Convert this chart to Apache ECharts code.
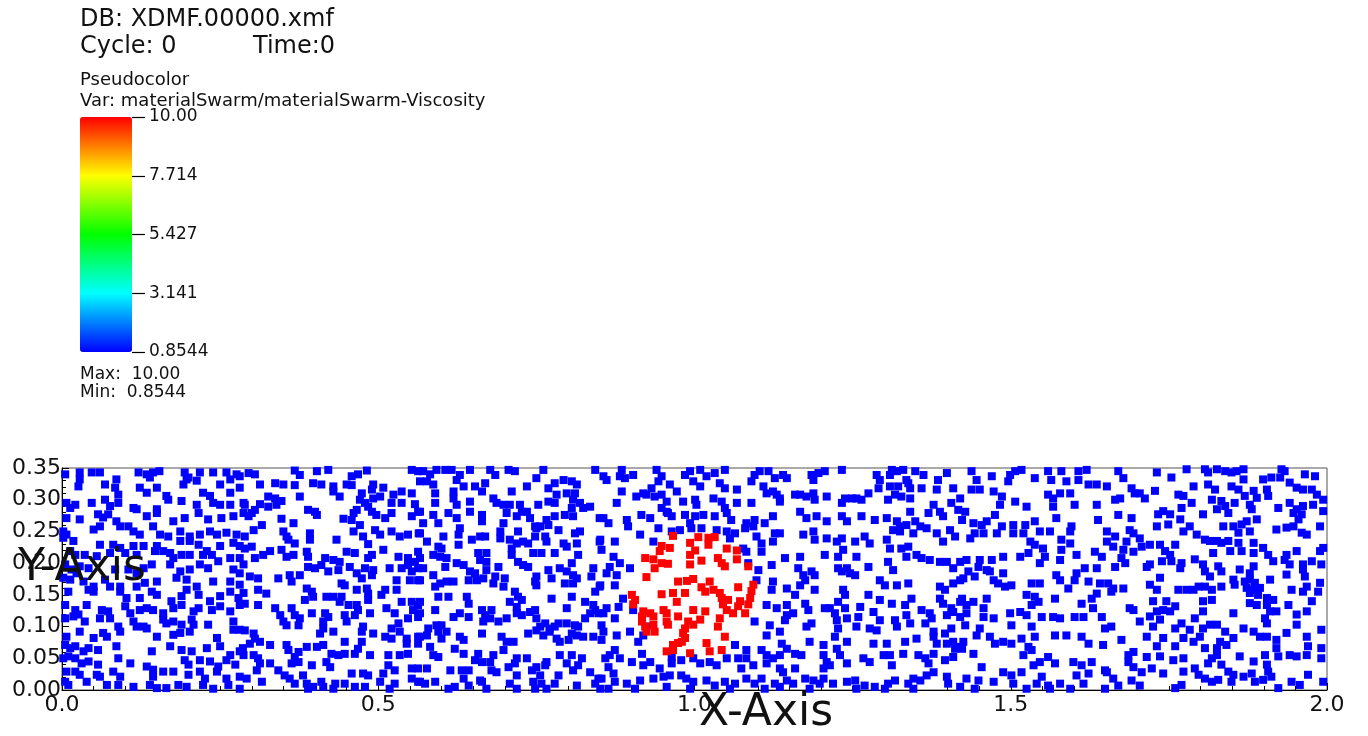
<!DOCTYPE html>
<html>
<head>
<meta charset="utf-8">
<script src="https://cdn.jsdelivr.net/npm/echarts@6/dist/echarts.min.js"></script>
<style>
html,body{margin:0;padding:0;background:#fff;}
#chart{width:1368px;height:736px;}
</style>
</head>
<body>
<div id="chart"></div>
<script>
// ---------------- data ----------------
const dbName = 'XDMF.00000.xmf';
const cycleValue = 0;
const timeValue = 0;
const plotName = 'Pseudocolor';
const varName = 'materialSwarm/materialSwarm-Viscosity';
const xRange = [0, 2.0];
const yRange = [0, 0.35];
const viscosityRange = [0.8544, 10.00];
const colorbarTicks = ['0.8544', '3.141', '5.427', '7.714', '10.00'];
const colorbarMaxLabel = '10.00';
const colorbarMinLabel = '0.8544';
const lowViscosity = 0.8544;   // background material (blue)
const highViscosity = 10.00;   // inclusion material (red)

const lowViscosityParticles = [
[0.005,0.340],[0.028,0.343],[0.047,0.343],[0.060,0.343],[0.086,0.332],[0.121,0.343],[0.134,0.340],[0.144,0.343],[0.154,0.345],[0.194,0.343],[0.200,0.335],[0.218,0.343],[0.239,0.343],[0.260,0.343],[0.266,0.332],[0.281,0.337],[0.028,0.332],[0.139,0.335],[0.197,0.332],[0.213,0.330],[0.276,0.340],
[0.026,0.321],[0.068,0.324],[0.084,0.319],[0.089,0.308],[0.123,0.319],[0.134,0.311],[0.150,0.319],[0.165,0.306],[0.192,0.324],[0.223,0.311],[0.234,0.306],[0.250,0.324],[0.266,0.311],[0.281,0.319],
[0.007,0.295],[0.013,0.287],[0.021,0.292],[0.047,0.295],[0.068,0.300],[0.076,0.290],[0.089,0.295],[0.113,0.287],[0.118,0.285],[0.150,0.285],[0.168,0.300],[0.189,0.298],[0.213,0.292],[0.239,0.295],[0.250,0.292],[0.266,0.292],[0.287,0.295],
[0.007,0.271],[0.028,0.269],[0.057,0.277],[0.065,0.272],[0.073,0.277],[0.086,0.266],[0.134,0.274],[0.150,0.279],[0.176,0.266],[0.194,0.271],[0.216,0.279],[0.231,0.269],[0.252,0.271],[0.271,0.274],[0.287,0.279],
[0.002,0.250],[0.007,0.245],[0.050,0.253],[0.060,0.258],[0.092,0.258],[0.105,0.258],[0.113,0.250],[0.123,0.245],[0.144,0.258],[0.155,0.245],[0.168,0.242],[0.187,0.250],[0.202,0.242],[0.218,0.245],[0.234,0.250],[0.245,0.245],[0.260,0.248],[0.276,0.245],
[0.002,0.240],[0.018,0.235],[0.060,0.229],[0.081,0.229],[0.092,0.224],[0.113,0.227],[0.129,0.227],[0.150,0.227],[0.160,0.219],[0.171,0.216],[0.187,0.235],[0.202,0.235],[0.216,0.229],[0.229,0.219],[0.250,0.227],[0.271,0.232],[0.281,0.227],
[0.013,0.219],[0.021,0.213],[0.036,0.213],[0.055,0.211],[0.076,0.216],[0.100,0.216],[0.118,0.213],[0.147,0.219],[0.176,0.208],[0.189,0.213],[0.202,0.213],[0.223,0.213],[0.237,0.213],[0.247,0.203],[0.266,0.208],[0.281,0.208],
[0.005,0.198],[0.015,0.190],[0.023,0.184],[0.028,0.195],[0.042,0.192],[0.084,0.190],[0.105,0.190],[0.118,0.184],[0.129,0.192],[0.142,0.198],[0.171,0.198],[0.187,0.187],[0.202,0.190],[0.218,0.198],[0.231,0.192],[0.271,0.190],[0.281,0.184],[0.287,0.198],
[0.002,0.177],[0.013,0.174],[0.034,0.171],[0.050,0.163],[0.068,0.174],[0.076,0.163],[0.092,0.163],[0.118,0.163],[0.131,0.169],[0.150,0.171],[0.181,0.177],[0.197,0.174],[0.213,0.163],[0.239,0.171],[0.266,0.171],[0.281,0.166],
[0.010,0.155],[0.042,0.158],[0.050,0.155],[0.092,0.155],[0.102,0.145],[0.123,0.145],[0.142,0.155],[0.150,0.150],[0.173,0.140],[0.189,0.148],[0.197,0.158],[0.216,0.150],[0.234,0.140],[0.250,0.148],[0.266,0.155],[0.279,0.145],[0.287,0.153],
[0.005,0.134],[0.021,0.126],[0.026,0.119],[0.039,0.134],[0.063,0.126],[0.073,0.124],[0.100,0.132],[0.108,0.121],[0.123,0.126],[0.134,0.129],[0.144,0.126],[0.160,0.121],[0.176,0.129],[0.189,0.134],[0.208,0.124],[0.216,0.129],[0.237,0.126],[0.250,0.132],[0.266,0.124],[0.281,0.134],
[0.005,0.113],[0.018,0.116],[0.036,0.108],[0.060,0.113],[0.076,0.113],[0.089,0.100],[0.113,0.108],[0.118,0.100],[0.129,0.100],[0.134,0.097],[0.160,0.111],[0.165,0.105],[0.176,0.108],[0.189,0.103],[0.205,0.111],[0.208,0.103],[0.231,0.103],[0.271,0.108],[0.281,0.095],
[0.007,0.084],[0.028,0.092],[0.050,0.082],[0.065,0.090],[0.071,0.084],[0.092,0.092],[0.150,0.084],[0.176,0.087],[0.187,0.090],[0.202,0.092],[0.245,0.082],[0.271,0.095],
[0.005,0.071],[0.013,0.066],[0.021,0.069],[0.034,0.061],[0.042,0.066],[0.057,0.063],[0.086,0.069],[0.142,0.061],[0.171,0.069],[0.189,0.063],[0.205,0.061],[0.229,0.066],[0.250,0.069],[0.266,0.055],[0.281,0.061],[0.286,0.066],
[0.002,0.050],[0.010,0.053],[0.021,0.050],[0.031,0.042],[0.042,0.045],[0.057,0.040],[0.089,0.050],[0.108,0.042],[0.134,0.037],[0.144,0.032],[0.194,0.047],[0.200,0.040],[0.218,0.047],[0.234,0.045],[0.247,0.037],[0.260,0.047],[0.274,0.040],[0.287,0.055],
[0.007,0.029],[0.021,0.029],[0.028,0.024],[0.055,0.024],[0.060,0.021],[0.081,0.029],[0.092,0.021],[0.144,0.021],[0.160,0.029],[0.176,0.029],[0.200,0.024],[0.218,0.029],[0.226,0.018],[0.245,0.029],[0.260,0.018],[0.281,0.021],
[0.005,0.013],[0.010,0.008],[0.039,0.013],[0.071,0.008],[0.089,0.008],[0.113,0.005],[0.139,0.008],[0.150,0.003],[0.165,0.003],[0.184,0.008],[0.197,0.005],[0.223,0.008],[0.239,0.002],[0.263,0.008],[0.281,0.002],
[0.295,0.342],[0.305,0.340],[0.368,0.346],[0.376,0.339],[0.403,0.345],[0.421,0.347],[0.458,0.337],[0.468,0.340],[0.482,0.346],[0.553,0.347],[0.563,0.345],
[0.313,0.324],[0.337,0.326],[0.350,0.324],[0.368,0.323],[0.397,0.326],[0.410,0.324],[0.429,0.321],[0.450,0.324],[0.458,0.323],[0.492,0.324],[0.508,0.319],
[0.326,0.305],[0.337,0.302],[0.376,0.305],[0.429,0.313],[0.439,0.305],[0.474,0.310],[0.471,0.300],[0.490,0.316],[0.492,0.302],[0.503,0.305],[0.524,0.308],[0.537,0.313],[0.553,0.310],[0.289,0.292],[0.313,0.293],[0.326,0.289],[0.339,0.292],[0.347,0.298],[0.479,0.295],[0.484,0.289],[0.521,0.295],[0.537,0.295],[0.558,0.293],
[0.300,0.279],[0.305,0.284],[0.295,0.274],[0.389,0.284],[0.400,0.281],[0.403,0.276],[0.445,0.270],[0.461,0.279],[0.458,0.268],[0.466,0.284],[0.471,0.260],[0.490,0.281],[0.497,0.276],[0.511,0.271],[0.521,0.279],[0.553,0.274],[0.563,0.281],[0.347,0.270],[0.366,0.263],
[0.316,0.260],[0.303,0.252],[0.289,0.242],[0.350,0.250],[0.355,0.242],[0.392,0.247],[0.392,0.237],[0.358,0.237],[0.368,0.231],[0.461,0.250],[0.476,0.242],[0.495,0.252],[0.503,0.245],[0.521,0.250],[0.534,0.242],[0.547,0.245],[0.564,0.247],[0.434,0.237],[0.484,0.230],
[0.289,0.223],[0.300,0.226],[0.329,0.219],[0.318,0.213],[0.305,0.208],[0.347,0.221],[0.366,0.213],[0.355,0.210],[0.387,0.218],[0.389,0.210],[0.416,0.208],[0.429,0.205],[0.439,0.202],[0.450,0.218],[0.463,0.216],[0.484,0.208],[0.490,0.213],[0.508,0.221],[0.532,0.210],[0.547,0.208],[0.563,0.218],[0.558,0.202],
[0.297,0.179],[0.310,0.176],[0.342,0.176],[0.360,0.181],[0.363,0.171],[0.376,0.181],[0.389,0.194],[0.400,0.192],[0.410,0.197],[0.421,0.187],[0.437,0.189],[0.455,0.194],[0.466,0.184],[0.474,0.176],[0.479,0.192],[0.490,0.181],[0.492,0.189],[0.518,0.192],[0.529,0.173],[0.537,0.192],[0.547,0.197],[0.553,0.187],[0.563,0.192],
[0.310,0.158],[0.323,0.152],[0.387,0.160],[0.395,0.155],[0.397,0.147],[0.442,0.168],[0.447,0.165],[0.466,0.158],[0.482,0.160],[0.484,0.152],[0.505,0.150],[0.511,0.158],[0.529,0.158],[0.550,0.173],[0.563,0.173],
[0.289,0.136],[0.310,0.134],[0.337,0.129],[0.384,0.142],[0.418,0.147],[0.429,0.147],[0.442,0.147],[0.439,0.139],[0.453,0.134],[0.466,0.134],[0.468,0.126],[0.484,0.142],[0.513,0.129],[0.537,0.139],[0.553,0.139],[0.563,0.134],[0.555,0.126],
[0.345,0.118],[0.350,0.108],[0.363,0.129],[0.368,0.118],[0.374,0.102],[0.376,0.113],[0.395,0.121],[0.416,0.121],[0.421,0.115],[0.413,0.108],[0.447,0.118],[0.450,0.108],[0.463,0.118],[0.487,0.121],[0.526,0.121],[0.532,0.105],[0.547,0.113],[0.563,0.115],[0.355,0.102],
[0.289,0.094],[0.303,0.089],[0.413,0.097],[0.408,0.089],[0.429,0.092],[0.476,0.100],[0.474,0.092],[0.492,0.089],[0.521,0.097],[0.534,0.092],[0.511,0.084],[0.521,0.081],[0.545,0.081],[0.563,0.084],[0.305,0.081],[0.313,0.076],[0.447,0.076],
[0.297,0.073],[0.329,0.071],[0.355,0.071],[0.358,0.063],[0.374,0.060],[0.387,0.068],[0.403,0.068],[0.413,0.071],[0.426,0.057],[0.437,0.055],[0.447,0.057],[0.463,0.057],[0.474,0.076],[0.468,0.065],[0.487,0.055],[0.516,0.055],[0.534,0.055],[0.547,0.057],[0.563,0.073],[0.545,0.073],[0.303,0.055],[0.310,0.050],[0.368,0.052],
[0.313,0.042],[0.329,0.042],[0.342,0.031],[0.352,0.023],[0.363,0.042],[0.374,0.044],[0.381,0.023],[0.395,0.039],[0.418,0.044],[0.424,0.036],[0.458,0.026],[0.476,0.026],[0.484,0.023],[0.508,0.026],[0.516,0.039],[0.526,0.031],[0.553,0.034],[0.563,0.034],[0.308,0.031],
[0.292,0.018],[0.316,0.013],[0.360,0.018],[0.368,0.010],[0.387,0.010],[0.389,0.002],[0.397,0.005],[0.410,0.013],[0.413,0.005],[0.429,0.002],[0.447,0.010],[0.463,0.005],[0.479,0.005],[0.503,0.013],[0.526,0.010],[0.518,0.002],[0.553,0.018],[0.563,0.013],[0.432,0.010],
[0.571,0.345],[0.582,0.340],[0.592,0.347],[0.606,0.347],[0.616,0.347],[0.645,0.347],[0.677,0.347],[0.685,0.339],[0.706,0.347],[0.716,0.345],[0.761,0.347],[0.843,0.347],[0.629,0.339],[0.624,0.331],[0.750,0.334],[0.566,0.329],
[0.577,0.329],[0.587,0.324],[0.590,0.310],[0.619,0.313],[0.635,0.321],[0.653,0.321],[0.664,0.313],[0.669,0.326],[0.711,0.313],[0.735,0.321],[0.769,0.318],[0.779,0.326],[0.793,0.331],[0.806,0.329],[0.814,0.324],[0.811,0.310],[0.798,0.310],[0.782,0.308],
[0.590,0.295],[0.619,0.302],[0.624,0.292],[0.645,0.297],[0.682,0.302],[0.687,0.295],[0.698,0.292],[0.708,0.292],[0.724,0.292],[0.753,0.292],[0.769,0.297],[0.779,0.295],[0.808,0.300],[0.819,0.295],[0.835,0.289],[0.824,0.287],[0.806,0.287],
[0.566,0.281],[0.571,0.263],[0.587,0.276],[0.611,0.279],[0.624,0.271],[0.645,0.281],[0.664,0.276],[0.664,0.266],[0.698,0.263],[0.703,0.279],[0.719,0.274],[0.727,0.281],[0.735,0.281],[0.740,0.271],[0.748,0.258],[0.756,0.258],[0.766,0.268],[0.779,0.274],[0.769,0.260],[0.795,0.276],[0.808,0.274],[0.850,0.271],
[0.595,0.263],[0.629,0.255],[0.627,0.245],[0.661,0.242],[0.693,0.250],[0.721,0.250],[0.750,0.255],[0.785,0.252],[0.811,0.247],[0.819,0.250],[0.566,0.247],
[0.577,0.234],[0.603,0.242],[0.595,0.226],[0.600,0.223],[0.627,0.229],[0.648,0.237],[0.669,0.242],[0.693,0.239],[0.708,0.237],[0.719,0.231],[0.729,0.234],[0.737,0.231],[0.748,0.242],[0.764,0.242],[0.766,0.234],[0.793,0.231],[0.798,0.226],[0.814,0.231],[0.850,0.234],[0.711,0.223],
[0.566,0.208],[0.587,0.213],[0.598,0.210],[0.608,0.208],[0.606,0.194],[0.624,0.200],[0.635,0.197],[0.658,0.216],[0.671,0.216],[0.661,0.205],[0.671,0.202],[0.690,0.194],[0.711,0.213],[0.721,0.202],[0.729,0.197],[0.737,0.194],[0.745,0.216],[0.758,0.216],[0.779,0.216],[0.806,0.200],[0.816,0.213],
[0.571,0.192],[0.587,0.181],[0.645,0.187],[0.653,0.184],[0.671,0.189],[0.685,0.179],[0.750,0.179],[0.769,0.189],[0.787,0.192],[0.798,0.187],[0.808,0.181],[0.814,0.176],[0.840,0.192],[0.837,0.179],[0.566,0.173],
[0.590,0.163],[0.598,0.168],[0.608,0.171],[0.619,0.171],[0.643,0.173],[0.656,0.173],[0.666,0.176],[0.682,0.168],[0.698,0.163],[0.700,0.176],[0.716,0.155],[0.748,0.171],[0.750,0.165],[0.774,0.176],[0.795,0.168],[0.808,0.168],[0.850,0.163],[0.843,0.155],
[0.566,0.139],[0.595,0.147],[0.611,0.147],[0.640,0.147],[0.643,0.136],[0.664,0.126],[0.679,0.126],[0.708,0.139],[0.721,0.147],[0.727,0.142],[0.719,0.131],[0.748,0.126],[0.774,0.144],[0.806,0.147],[0.798,0.129],[0.827,0.139],[0.840,0.134],[0.843,0.126],[0.590,0.126],[0.566,0.121],
[0.619,0.115],[0.629,0.121],[0.643,0.115],[0.666,0.108],[0.669,0.118],[0.677,0.113],[0.690,0.108],[0.703,0.113],[0.719,0.121],[0.727,0.118],[0.740,0.123],[0.750,0.113],[0.756,0.100],[0.764,0.105],[0.771,0.097],[0.779,0.100],[0.785,0.105],[0.798,0.105],[0.811,0.102],[0.816,0.100],[0.827,0.113],[0.835,0.121],[0.848,0.121],[0.579,0.097],[0.592,0.102],[0.600,0.102],
[0.566,0.084],[0.577,0.086],[0.595,0.092],[0.600,0.081],[0.608,0.092],[0.629,0.084],[0.635,0.079],[0.664,0.089],[0.695,0.084],[0.703,0.076],[0.714,0.076],[0.737,0.089],[0.750,0.094],[0.761,0.086],[0.771,0.092],[0.782,0.081],[0.787,0.076],[0.801,0.079],[0.806,0.089],[0.814,0.086],[0.824,0.084],[0.840,0.084],[0.582,0.068],[0.621,0.065],
[0.587,0.055],[0.595,0.052],[0.635,0.057],[0.658,0.057],[0.653,0.047],[0.664,0.044],[0.682,0.055],[0.698,0.063],[0.719,0.050],[0.716,0.042],[0.735,0.050],[0.750,0.036],[0.766,0.044],[0.787,0.055],[0.806,0.055],[0.822,0.050],[0.798,0.042],[0.816,0.039],
[0.614,0.031],[0.632,0.031],[0.643,0.031],[0.677,0.044],[0.679,0.031],[0.687,0.028],[0.706,0.036],[0.719,0.023],[0.743,0.031],[0.756,0.023],[0.764,0.039],[0.785,0.023],[0.808,0.031],[0.835,0.028],[0.848,0.018],[0.577,0.034],[0.635,0.018],[0.661,0.015],
[0.574,0.010],[0.590,0.013],[0.611,0.002],[0.621,0.005],[0.643,0.007],[0.664,0.013],[0.671,0.002],[0.708,0.010],[0.719,0.002],[0.745,0.013],[0.748,0.002],[0.758,0.010],[0.766,0.002],[0.779,0.010],[0.814,0.007],[0.843,0.010],[0.566,0.013],
[0.885,0.347],[0.856,0.337],[0.861,0.331],[0.882,0.337],[0.890,0.334],[0.903,0.339],[0.940,0.347],[0.948,0.337],[0.985,0.339],[0.993,0.345],[1.009,0.347],[1.019,0.337],[1.032,0.342],[1.048,0.347],[1.095,0.339],[1.103,0.345],[1.117,0.345],[1.127,0.334],
[0.885,0.313],[0.908,0.305],[0.919,0.310],[0.932,0.318],[0.924,0.308],[0.943,0.329],[0.961,0.324],[0.972,0.313],[0.998,0.329],[1.009,0.321],[1.040,0.326],[1.048,0.318],[1.067,0.316],[1.090,0.329],[1.109,0.321],[1.114,0.310],[1.124,0.313],[1.130,0.308],
[0.877,0.295],[0.937,0.305],[0.948,0.308],[0.956,0.297],[0.982,0.297],[1.001,0.300],[1.003,0.292],[1.030,0.302],[1.043,0.297],[1.048,0.287],[1.067,0.295],[1.090,0.295],[0.948,0.287],[0.956,0.281],[1.135,0.302],
[0.856,0.271],[0.864,0.263],[0.893,0.268],[0.916,0.276],[0.930,0.271],[0.958,0.279],[0.964,0.274],[0.985,0.276],[0.993,0.263],[1.001,0.274],[1.014,0.276],[1.032,0.274],[1.051,0.279],[1.058,0.268],[1.082,0.263],[1.095,0.268],[1.111,0.263],[1.124,0.274],
[0.895,0.258],[0.914,0.245],[0.943,0.255],[0.964,0.250],[0.977,0.252],[0.995,0.255],[1.011,0.255],[1.035,0.252],[1.051,0.250],[1.064,0.247],[1.080,0.255],[1.093,0.258],[1.127,0.247],[0.851,0.237],[0.874,0.234],[0.935,0.234],
[0.853,0.221],[1.082,0.218],[1.077,0.223],[1.106,0.231],[1.124,0.234],[1.098,0.242],[1.056,0.239],
[1.106,0.218],[1.085,0.200],[1.101,0.189],[1.122,0.197],[0.872,0.210],[0.882,0.200],[0.866,0.194],[0.898,0.192],[0.861,0.184],[0.877,0.181],
[0.851,0.165],[0.874,0.165],[1.124,0.171],[1.122,0.158],[1.098,0.173],
[0.887,0.144],[0.880,0.131],[0.861,0.129],[0.856,0.121],[0.903,0.126],[1.114,0.134],[1.130,0.129],
[0.874,0.113],[0.853,0.102],[0.856,0.092],[0.877,0.086],[0.898,0.092],[0.911,0.076],[0.919,0.086],[0.924,0.100],[1.095,0.108],[1.119,0.102],[1.114,0.086],
[0.853,0.079],[0.917,0.057],[0.874,0.063],[0.859,0.050],[0.866,0.055],[1.064,0.071],[1.082,0.063],[1.069,0.050],[1.082,0.050],[1.106,0.063],[1.114,0.055],[1.124,0.050],[1.135,0.055],
[0.882,0.050],[0.901,0.044],[0.919,0.039],[0.930,0.044],[0.945,0.034],[0.964,0.052],[0.964,0.042],[0.979,0.047],[0.998,0.050],[1.009,0.042],[1.024,0.044],[1.035,0.039],[1.051,0.050],[1.074,0.034],[1.093,0.039],[1.114,0.042],[1.135,0.034],[0.864,0.036],[0.872,0.026],
[0.853,0.018],[0.874,0.013],[0.893,0.010],[0.914,0.015],[0.935,0.018],[0.951,0.021],[0.961,0.023],[0.979,0.023],[0.987,0.018],[0.998,0.013],[1.019,0.015],[1.032,0.007],[1.048,0.013],[1.056,0.002],[1.064,0.010],[1.082,0.018],[1.095,0.010],[1.106,0.018],[1.111,0.002],[1.127,0.010],[0.851,0.002],[0.864,0.002],[0.906,0.002],[0.956,0.005],[0.993,0.002],
[1.140,0.339],[1.146,0.334],[1.185,0.339],[1.188,0.331],[1.196,0.342],[1.206,0.345],[1.233,0.347],[1.288,0.339],[1.293,0.331],[1.312,0.347],[1.309,0.339],[1.320,0.345],[1.330,0.347],[1.335,0.331],[1.349,0.345],[1.362,0.339],[1.385,0.331],[1.399,0.342],
[1.159,0.308],[1.167,0.308],[1.177,0.305],[1.188,0.310],[1.190,0.300],[1.209,0.305],[1.233,0.295],[1.238,0.302],[1.249,0.302],[1.256,0.302],[1.264,0.300],[1.275,0.310],[1.291,0.318],[1.309,0.321],[1.322,0.321],[1.338,0.326],[1.341,0.318],[1.359,0.318],[1.383,0.316],[1.409,0.318],[1.317,0.308],[1.327,0.305],[1.306,0.300],[1.341,0.302],
[1.135,0.297],[1.167,0.281],[1.177,0.271],[1.193,0.274],[1.209,0.266],[1.233,0.274],[1.241,0.266],[1.264,0.274],[1.285,0.268],[1.304,0.271],[1.320,0.266],[1.325,0.258],[1.341,0.281],[1.335,0.260],[1.349,0.266],[1.357,0.258],[1.367,0.255],[1.370,0.279],[1.378,0.292],[1.388,0.281],[1.393,0.274],[1.406,0.295],[1.417,0.284],
[1.135,0.247],[1.172,0.245],[1.188,0.250],[1.190,0.237],[1.209,0.239],[1.225,0.234],[1.233,0.239],[1.235,0.221],[1.254,0.234],[1.269,0.242],[1.277,0.231],[1.304,0.237],[1.314,0.252],[1.325,0.250],[1.346,0.247],[1.383,0.247],[1.393,0.234],[1.404,0.252],[1.412,0.242],[1.309,0.223],[1.327,0.223],[1.338,0.226],[1.351,0.213],
[1.143,0.208],[1.167,0.210],[1.206,0.213],[1.227,0.210],[1.227,0.192],[1.241,0.192],[1.254,0.181],[1.256,0.210],[1.275,0.194],[1.306,0.202],[1.314,0.189],[1.335,0.210],[1.359,0.208],[1.372,0.205],[1.388,0.202],[1.399,0.202],[1.409,0.192],
[1.164,0.192],[1.172,0.181],[1.175,0.173],[1.185,0.187],[1.190,0.181],[1.233,0.187],[1.246,0.184],[1.293,0.173],[1.301,0.165],[1.320,0.165],[1.338,0.168],[1.388,0.163],[1.396,0.158],[1.409,0.168],[1.420,0.173],[1.146,0.160],[1.167,0.165],
[1.159,0.150],[1.190,0.158],[1.235,0.158],[1.238,0.150],[1.275,0.150],[1.293,0.142],[1.312,0.136],[1.333,0.134],[1.343,0.144],[1.388,0.144],[1.393,0.136],[1.406,0.129],[1.420,0.139],[1.146,0.134],[1.175,0.136],[1.214,0.129],[1.227,0.139],[1.238,0.129],[1.262,0.131],
[1.146,0.118],[1.143,0.110],[1.156,0.121],[1.180,0.126],[1.206,0.129],[1.222,0.121],[1.225,0.110],[1.241,0.113],[1.259,0.115],[1.283,0.123],[1.293,0.110],[1.317,0.110],[1.335,0.118],[1.359,0.126],[1.372,0.121],[1.375,0.113],[1.399,0.118],[1.409,0.123],[1.177,0.100],[1.185,0.105],[1.227,0.097],[1.256,0.100],[1.277,0.097],[1.288,0.094],[1.320,0.100],[1.341,0.105],[1.365,0.105],[1.378,0.092],[1.396,0.089],[1.406,0.097],
[1.135,0.092],[1.138,0.073],[1.182,0.076],[1.204,0.071],[1.222,0.084],[1.225,0.065],[1.241,0.076],[1.283,0.073],[1.304,0.073],[1.333,0.076],[1.351,0.081],[1.378,0.084],[1.383,0.073],[1.399,0.073],[1.409,0.076],[1.420,0.068],
[1.146,0.065],[1.159,0.057],[1.169,0.055],[1.204,0.055],[1.209,0.044],[1.214,0.039],[1.230,0.055],[1.241,0.042],[1.267,0.050],[1.277,0.044],[1.299,0.055],[1.309,0.055],[1.330,0.057],[1.354,0.055],[1.365,0.050],[1.370,0.042],[1.378,0.057],[1.396,0.047],[1.409,0.052],[1.412,0.065],[1.159,0.034],[1.204,0.034],[1.312,0.039],
[1.140,0.028],[1.146,0.015],[1.156,0.010],[1.175,0.018],[1.188,0.015],[1.198,0.010],[1.204,0.018],[1.219,0.010],[1.241,0.013],[1.254,0.015],[1.269,0.007],[1.285,0.005],[1.306,0.010],[1.317,0.015],[1.338,0.010],[1.346,0.018],[1.346,0.002],[1.357,0.015],[1.367,0.023],[1.378,0.028],[1.399,0.021],[1.401,0.010],[1.135,0.005],[1.182,0.002],[1.256,0.002],[1.301,0.002],
[1.438,0.345],[1.446,0.331],[1.470,0.337],[1.499,0.339],[1.496,0.329],[1.507,0.345],[1.517,0.347],[1.538,0.334],[1.559,0.345],[1.564,0.331],[1.580,0.345],[1.588,0.329],[1.607,0.345],[1.607,0.331],[1.620,0.347],[1.623,0.324],[1.636,0.324],[1.652,0.321],[1.670,0.345],[1.678,0.334],[1.691,0.318],[1.704,0.310],
[1.438,0.316],[1.451,0.316],[1.473,0.313],[1.486,0.305],[1.507,0.297],[1.525,0.289],[1.559,0.308],[1.567,0.302],[1.578,0.310],[1.594,0.310],[1.601,0.292],[1.636,0.292],[1.665,0.300],[1.673,0.302],[1.696,0.310],[1.712,0.302],[1.420,0.302],[1.483,0.292],[1.567,0.289],
[1.428,0.281],[1.423,0.268],[1.441,0.263],[1.454,0.260],[1.462,0.266],[1.475,0.276],[1.486,0.258],[1.504,0.260],[1.523,0.260],[1.538,0.266],[1.572,0.271],[1.596,0.258],[1.638,0.268],[1.652,0.250],[1.670,0.276],[1.691,0.271],[1.688,0.252],[1.562,0.250],
[1.436,0.239],[1.443,0.247],[1.457,0.247],[1.478,0.247],[1.504,0.247],[1.520,0.247],[1.531,0.234],[1.546,0.250],[1.538,0.229],[1.551,0.223],[1.580,0.237],[1.594,0.250],[1.594,0.231],[1.652,0.234],[1.665,0.242],[1.683,0.234],[1.694,0.247],[1.704,0.239],[1.707,0.226],[1.662,0.226],
[1.420,0.202],[1.430,0.205],[1.451,0.205],[1.470,0.205],[1.449,0.194],[1.462,0.189],[1.488,0.210],[1.515,0.210],[1.528,0.216],[1.546,0.200],[1.554,0.210],[1.580,0.221],[1.578,0.205],[1.604,0.213],[1.633,0.218],[1.644,0.210],[1.665,0.194],[1.675,0.208],[1.678,0.221],[1.681,0.200],[1.694,0.218],[1.715,0.194],[1.636,0.192],
[1.425,0.176],[1.433,0.187],[1.443,0.179],[1.467,0.187],[1.473,0.173],[1.488,0.184],[1.480,0.168],[1.491,0.163],[1.501,0.165],[1.533,0.168],[1.546,0.168],[1.572,0.181],[1.578,0.173],[1.591,0.160],[1.601,0.173],[1.604,0.184],[1.617,0.192],[1.623,0.171],[1.641,0.168],[1.654,0.168],[1.662,0.160],[1.678,0.160],
[1.423,0.144],[1.430,0.134],[1.441,0.139],[1.462,0.144],[1.457,0.129],[1.430,0.121],[1.525,0.150],[1.538,0.147],[1.544,0.139],[1.533,0.134],[1.570,0.144],[1.612,0.136],[1.628,0.144],[1.630,0.129],[1.636,0.152],[1.659,0.155],[1.694,0.126],
[1.420,0.115],[1.428,0.102],[1.457,0.115],[1.473,0.113],[1.451,0.097],[1.499,0.121],[1.515,0.123],[1.501,0.102],[1.525,0.118],[1.533,0.100],[1.549,0.115],[1.567,0.115],[1.578,0.113],[1.601,0.115],[1.615,0.115],[1.644,0.115],[1.649,0.097],[1.659,0.100],[1.688,0.129],[1.704,0.108],
[1.425,0.076],[1.423,0.065],[1.446,0.086],[1.467,0.084],[1.475,0.073],[1.488,0.076],[1.501,0.073],[1.517,0.081],[1.528,0.068],[1.538,0.084],[1.570,0.086],[1.588,0.086],[1.612,0.084],[1.623,0.073],[1.646,0.071],[1.675,0.079],[1.694,0.060],[1.715,0.084],
[1.441,0.057],[1.454,0.036],[1.488,0.028],[1.520,0.055],[1.533,0.063],[1.546,0.044],[1.536,0.039],[1.559,0.052],[1.570,0.042],[1.599,0.044],[1.612,0.039],[1.628,0.044],[1.649,0.031],[1.686,0.055],[1.686,0.044],[1.694,0.036],[1.715,0.052],[1.707,0.028],
[1.430,0.018],[1.449,0.015],[1.473,0.013],[1.501,0.023],[1.517,0.028],[1.504,0.010],[1.541,0.010],[1.549,0.021],[1.559,0.007],[1.578,0.010],[1.594,0.002],[1.604,0.023],[1.615,0.010],[1.623,0.026],[1.652,0.028],[1.662,0.018],[1.670,0.007],[1.691,0.015],[1.704,0.007],[1.420,0.005],[1.443,0.002],[1.525,0.002],[1.562,0.002],[1.649,0.002],
[1.731,0.343],[1.754,0.335],[1.778,0.348],[1.807,0.348],[1.812,0.343],[1.826,0.348],[1.839,0.345],[1.849,0.343],[1.857,0.345],[1.868,0.348],[1.868,0.332],[1.899,0.332],[1.912,0.335],[1.928,0.348],[1.926,0.335],[1.933,0.345],[1.965,0.340],[1.981,0.337],
[1.728,0.314],[1.765,0.308],[1.773,0.306],[1.789,0.321],[1.812,0.324],[1.823,0.316],[1.849,0.321],[1.860,0.316],[1.870,0.306],[1.884,0.314],[1.889,0.303],[1.905,0.316],[1.907,0.306],[1.941,0.327],[1.952,0.319],[1.962,0.316],[1.976,0.316],[1.984,0.308],[1.994,0.300],[1.818,0.300],[1.833,0.298],[1.786,0.295],
[1.733,0.277],[1.741,0.282],[1.752,0.277],[1.770,0.287],[1.768,0.269],[1.804,0.277],[1.826,0.285],[1.839,0.290],[1.844,0.279],[1.854,0.295],[1.878,0.292],[1.881,0.285],[1.889,0.269],[1.923,0.287],[1.941,0.295],[1.952,0.285],[1.962,0.290],[1.960,0.277],[1.978,0.292],[1.994,0.282],[1.947,0.279],
[1.731,0.258],[1.749,0.261],[1.773,0.250],[1.783,0.258],[1.794,0.245],[1.807,0.237],[1.815,0.235],[1.826,0.235],[1.836,0.258],[1.852,0.258],[1.860,0.248],[1.865,0.261],[1.873,0.266],[1.878,0.250],[1.920,0.253],[1.936,0.256],[1.947,0.258],[1.960,0.248],[1.968,0.245],[1.989,0.258],[1.955,0.269],
[1.720,0.229],[1.736,0.229],[1.744,0.219],[1.752,0.213],[1.760,0.229],[1.754,0.203],[1.770,0.200],[1.820,0.216],[1.833,0.232],[1.844,0.235],[1.847,0.219],[1.860,0.232],[1.865,0.219],[1.884,0.216],[1.884,0.232],[1.899,0.224],[1.907,0.213],[1.915,0.203],[1.936,0.213],[1.952,0.219],[1.933,0.205],[1.941,0.198],[1.962,0.198],[1.976,0.203],[1.989,0.219],[1.994,0.224],
[1.720,0.198],[1.739,0.203],[1.736,0.177],[1.768,0.192],[1.791,0.206],[1.804,0.198],[1.807,0.187],[1.815,0.179],[1.828,0.195],[1.833,0.187],[1.852,0.174],[1.862,0.190],[1.878,0.184],[1.884,0.195],[1.878,0.174],[1.886,0.169],[1.910,0.174],[1.936,0.182],[1.962,0.190],[1.965,0.179],[1.991,0.198],
[1.720,0.166],[1.731,0.158],[1.765,0.158],[1.778,0.158],[1.789,0.158],[1.797,0.163],[1.807,0.163],[1.818,0.158],[1.833,0.163],[1.854,0.166],[1.870,0.171],[1.873,0.161],[1.884,0.158],[1.894,0.161],[1.891,0.150],[1.878,0.153],[1.905,0.145],[1.915,0.142],[1.944,0.158],[1.962,0.155],[1.968,0.163],[1.989,0.169],[1.986,0.155],[1.976,0.140],[1.725,0.140],[1.746,0.140],[1.760,0.132],[1.804,0.140],[1.818,0.142],
[1.731,0.124],[1.741,0.126],[1.752,0.124],[1.720,0.116],[1.736,0.111],[1.791,0.113],[1.804,0.124],[1.815,0.103],[1.852,0.121],[1.878,0.137],[1.889,0.134],[1.905,0.134],[1.910,0.124],[1.920,0.124],[1.902,0.113],[1.905,0.105],[1.939,0.134],[1.952,0.119],[1.952,0.103],[1.968,0.124],
[1.725,0.100],[1.741,0.082],[1.760,0.097],[1.770,0.105],[1.773,0.082],[1.783,0.095],[1.804,0.097],[1.799,0.084],[1.826,0.103],[1.839,0.092],[1.831,0.076],[1.852,0.082],[1.868,0.097],[1.884,0.092],[1.894,0.084],[1.905,0.084],[1.920,0.079],[1.936,0.090],[1.968,0.084],[1.970,0.069],[1.991,0.095],
[1.731,0.069],[1.736,0.053],[1.760,0.069],[1.757,0.047],[1.773,0.050],[1.789,0.076],[1.807,0.066],[1.826,0.066],[1.841,0.071],[1.826,0.055],[1.818,0.050],[1.812,0.042],[1.833,0.040],[1.862,0.053],[1.884,0.045],[1.902,0.055],[1.905,0.040],[1.920,0.066],[1.923,0.053],[1.941,0.055],[1.952,0.053],[1.968,0.055],[1.991,0.066],[1.991,0.050],
[1.723,0.034],[1.741,0.026],[1.773,0.029],[1.791,0.034],[1.797,0.024],[1.807,0.018],[1.818,0.013],[1.828,0.016],[1.844,0.029],[1.852,0.024],[1.868,0.021],[1.881,0.026],[1.886,0.013],[1.899,0.016],[1.907,0.029],[1.912,0.021],[1.923,0.003],[1.944,0.013],[1.957,0.008],[1.970,0.024],[1.994,0.013],[1.760,0.003],[1.770,0.008],[1.849,0.013]
];

const highViscosityParticles = [
[0.966,0.243],[1.006,0.241],[1.022,0.240],[1.032,0.241],[0.993,0.232],[1.022,0.229],[0.948,0.227],[0.961,0.224],[1.001,0.220],[0.993,0.213],[1.051,0.223],[1.067,0.220],[0.945,0.219],
[0.922,0.208],[0.935,0.206],[0.948,0.200],[0.958,0.199],[0.937,0.192],[1.011,0.204],[0.993,0.198],[1.037,0.208],[1.043,0.200],[1.048,0.195],[1.067,0.206],[1.085,0.195],
[0.924,0.178],[0.974,0.171],[0.988,0.172],[0.998,0.175],[1.011,0.162],[1.024,0.171],[1.030,0.158],[1.040,0.153],[1.017,0.155],[1.069,0.162],[1.093,0.166],[1.090,0.156],[0.901,0.150],[0.948,0.151],[0.966,0.153],[0.985,0.153],
[0.906,0.142],[0.903,0.135],[0.972,0.139],[0.998,0.126],[1.043,0.145],[1.053,0.142],[1.045,0.135],[1.051,0.126],[1.072,0.140],[1.069,0.132],[1.088,0.145],[1.085,0.135],[1.080,0.121],[1.061,0.121],[0.919,0.124],[0.917,0.116],[0.930,0.121],[0.935,0.116],[0.951,0.126],[0.956,0.121],[1.017,0.124],
[0.917,0.108],[0.922,0.100],[0.935,0.103],[0.956,0.108],[0.958,0.103],[0.974,0.116],[0.990,0.108],[0.998,0.103],[1.009,0.111],[0.985,0.097],[0.982,0.090],[1.040,0.113],[1.037,0.100],[0.924,0.092],[0.937,0.092],
[0.985,0.082],[0.974,0.074],[0.966,0.071],[0.980,0.076],[0.966,0.063],[0.956,0.061],[1.019,0.074],[1.048,0.084],[1.043,0.063],[0.993,0.058],[1.024,0.061]
];

// ---------------- chart ----------------
const FONT = '"DejaVu Sans", "Liberation Sans", sans-serif';
const INK = '#111';
const chart = echarts.init(document.getElementById('chart'), null, {renderer: 'canvas', width: 1368, height: 736});

function txt(text, x, y, size) {
  return {
    type: 'text', x: x, y: y, z: 100, silent: true,
    style: {
      text: text, font: size + 'px ' + FONT, fill: INK,
      align: 'left', verticalAlign: 'middle',
      textAlign: 'left', textVerticalAlign: 'middle'
    }
  };
}

const option = {
  animation: false,
  backgroundColor: '#ffffff',
  textStyle: {fontFamily: FONT},
  grid: [
    {left: 62, right: 41, top: 468, bottom: 46, show: true, borderColor: '#555', borderWidth: 1, backgroundColor: 'transparent'},
    // narrow strip just right of the colour bar, hosting its tick marks and labels
    {left: 132, top: 117, width: 14, height: 235, show: false}
  ],
  xAxis: [
    {
      type: 'value', gridIndex: 0, min: xRange[0], max: xRange[1], interval: 0.5,
      axisLine: {show: true, onZero: false, lineStyle: {color: '#000', width: 1}},
      axisTick: {show: true, inside: true, length: 7, lineStyle: {color: '#000'}},
      minorTick: {show: true, splitNumber: 10, length: 4, lineStyle: {color: '#000'}},
      splitLine: {show: false},
      axisLabel: {formatter: v => v.toFixed(1), fontSize: 22, color: INK, margin: 4, fontFamily: FONT}
    },
    {type: 'value', gridIndex: 1, show: false, min: 0, max: 1}
  ],
  yAxis: [
    {
      type: 'value', gridIndex: 0, min: yRange[0], max: yRange[1], interval: 0.05,
      axisLine: {show: true, onZero: false, lineStyle: {color: '#000', width: 1}},
      axisTick: {show: true, inside: true, length: 7, lineStyle: {color: '#000'}},
      minorTick: {show: true, splitNumber: 5, length: 4, lineStyle: {color: '#000'}},
      splitLine: {show: false},
      axisLabel: {formatter: v => v.toFixed(2), fontSize: 22, color: INK, margin: 1, fontFamily: FONT}
    },
    {
      type: 'category', gridIndex: 1, data: colorbarTicks, boundaryGap: false, position: 'left', z: 10,
      axisLine: {show: false},
      axisTick: {show: true, inside: true, interval: 0, length: 13, lineStyle: {color: '#000', width: 1.2}},
      axisLabel: {show: true, inside: true, interval: 0, margin: 17, fontSize: 17, color: INK, fontFamily: FONT, align: 'left'},
      splitLine: {show: false}
    }
  ],
  visualMap: {
    type: 'continuous',
    min: viscosityRange[0], max: viscosityRange[1],
    dimension: 2, seriesIndex: [0, 1],
    inRange: {color: ['#0000ff', '#00ffff', '#00ff00', '#ffff00', '#ff0000']},
    calculable: false, hoverLink: false, realtime: false,
    orient: 'vertical', left: 80, top: 117, itemWidth: 52, itemHeight: 235,
    padding: 0, text: null, show: true, z: 2
  },
  series: [
    {
      name: 'low', type: 'scatter', xAxisIndex: 0, yAxisIndex: 0,
      data: lowViscosityParticles.map(p => [p[0], p[1], lowViscosity]),
      symbol: 'rect', symbolSize: 8, silent: true, z: 2,
      itemStyle: {opacity: 1}
    },
    {
      name: 'high', type: 'scatter', xAxisIndex: 0, yAxisIndex: 0,
      data: highViscosityParticles.map(p => [p[0], p[1], highViscosity]),
      symbol: 'rect', symbolSize: 8, silent: true, z: 3,
      itemStyle: {opacity: 1}
    }
  ],
  graphic: [
    txt('DB: ' + dbName, 80, 20, 24),
    txt('Cycle: ' + cycleValue, 80, 47, 24),
    txt('Time:' + timeValue, 253, 47, 24),
    txt(plotName, 80, 80, 18),
    txt('Var: ' + varName, 80, 101, 18),
    txt('Max:  ' + colorbarMaxLabel, 80, 375, 17),
    txt('Min:  ' + colorbarMinLabel, 80, 393, 17),
    txt('Y-Axis', 18, 569, 44),
    txt('X-Axis', 699, 714, 44)
  ]
};
chart.setOption(option);
</script>
</body>
</html>
